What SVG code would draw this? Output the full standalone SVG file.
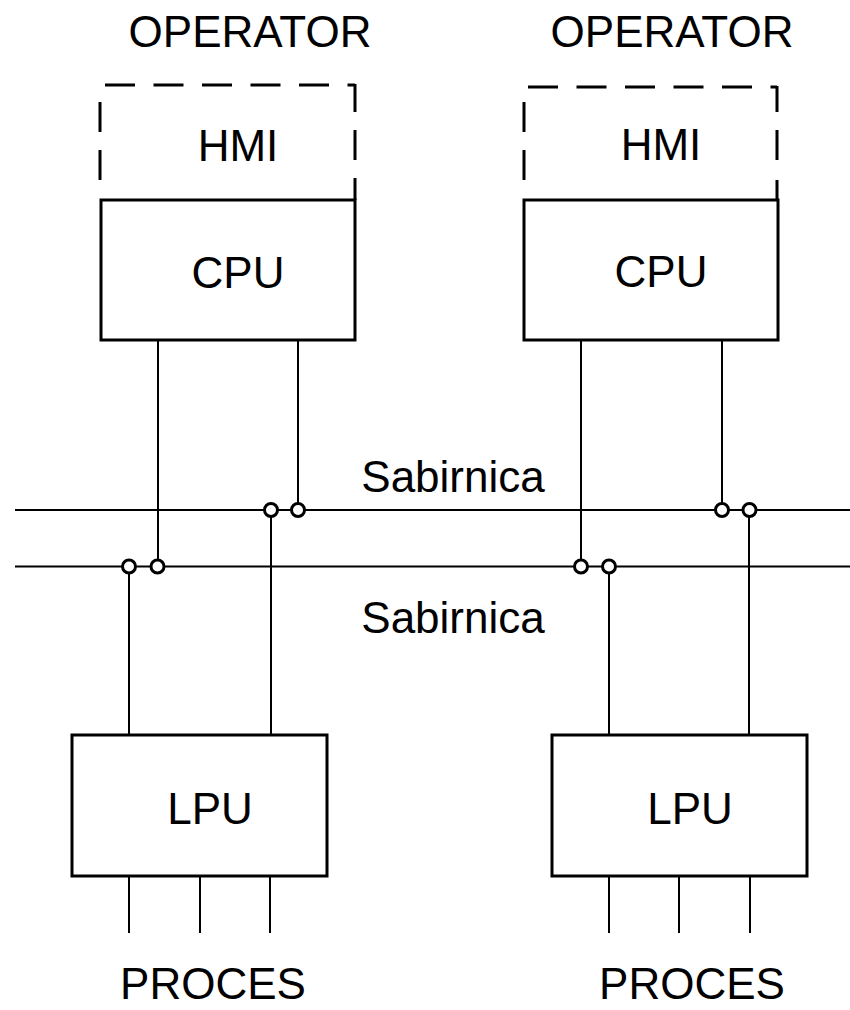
<svg xmlns="http://www.w3.org/2000/svg" width="850" height="1010" viewBox="0 0 850 1010">
<style>
text{font-family:"Liberation Sans",Arial,sans-serif;font-size:44px;fill:#000;text-anchor:middle}
.box{fill:none;stroke:#000;stroke-width:3}
.dash{fill:none;stroke:#000;stroke-width:3}
.ln{stroke:#000;stroke-width:2;fill:none}
.jn{fill:#fff;stroke:#000;stroke-width:3}
</style>
<rect width="850" height="1010" fill="#fff"/>
<g id="labels">
<text x="250" y="47">OPERATOR</text>
<text x="672" y="47">OPERATOR</text>
<text x="453" y="492">Sabirnica</text>
<text x="453" y="633">Sabirnica</text>
<text x="213" y="999">PROCES</text>
<text x="692" y="999">PROCES</text>
</g>
<g id="connectors">
<line class="ln" x1="15" y1="510" x2="850" y2="510"/>
<line class="ln" x1="15" y1="566.5" x2="850" y2="566.5"/>
<line class="ln" x1="158" y1="340" x2="158" y2="566"/>
<line class="ln" x1="298" y1="340" x2="298" y2="510"/>
<line class="ln" x1="129" y1="566" x2="129" y2="735"/>
<line class="ln" x1="271" y1="510" x2="271" y2="735"/>
<line class="ln" x1="581" y1="340" x2="581" y2="566"/>
<line class="ln" x1="722" y1="340" x2="722" y2="510"/>
<line class="ln" x1="609" y1="566" x2="609" y2="735"/>
<line class="ln" x1="749" y1="510" x2="749" y2="735"/>
<line class="ln" x1="129" y1="876" x2="129" y2="933"/>
<line class="ln" x1="200" y1="876" x2="200" y2="933"/>
<line class="ln" x1="270" y1="876" x2="270" y2="933"/>
<line class="ln" x1="609" y1="876" x2="609" y2="933"/>
<line class="ln" x1="679" y1="876" x2="679" y2="933"/>
<line class="ln" x1="750" y1="876" x2="750" y2="933"/>
<circle class="jn" cx="129" cy="566.5" r="6.5"/>
<circle class="jn" cx="157.5" cy="566.5" r="6.5"/>
<circle class="jn" cx="271" cy="510" r="6.5"/>
<circle class="jn" cx="298" cy="510" r="6.5"/>
<circle class="jn" cx="581" cy="566.5" r="6.5"/>
<circle class="jn" cx="609" cy="566.5" r="6.5"/>
<circle class="jn" cx="722" cy="510" r="6.5"/>
<circle class="jn" cx="749.5" cy="510" r="6.5"/>
</g>
<g id="hmi1">
<line class="dash" x1="105" y1="85" x2="355" y2="85" stroke-dasharray="30 18.5"/>
<line class="dash" x1="355" y1="84" x2="355" y2="200" stroke-dasharray="28 18 30 18 50"/>
<line class="dash" x1="100" y1="102" x2="100" y2="180" stroke-dasharray="30 18"/>
<text x="238" y="161">HMI</text>
</g>
<g id="cpu1">
<rect class="box" x="101" y="200" width="254" height="140"/>
<text x="238" y="288">CPU</text>
</g>
<g id="hmi2">
<line class="dash" x1="528" y1="87" x2="777" y2="87" stroke-dasharray="30 18.5"/>
<line class="dash" x1="777" y1="86" x2="777" y2="200" stroke-dasharray="26 18 30 20 50"/>
<line class="dash" x1="524" y1="102" x2="524" y2="180" stroke-dasharray="30 18"/>
<text x="661" y="160">HMI</text>
</g>
<g id="cpu2">
<rect class="box" x="524" y="200" width="254" height="140"/>
<text x="661" y="287">CPU</text>
</g>
<g id="lpu1">
<rect class="box" x="72" y="735" width="255" height="141"/>
<text x="210" y="824">LPU</text>
</g>
<g id="lpu2">
<rect class="box" x="552" y="735" width="255" height="141"/>
<text x="690" y="824">LPU</text>
</g>
</svg>
